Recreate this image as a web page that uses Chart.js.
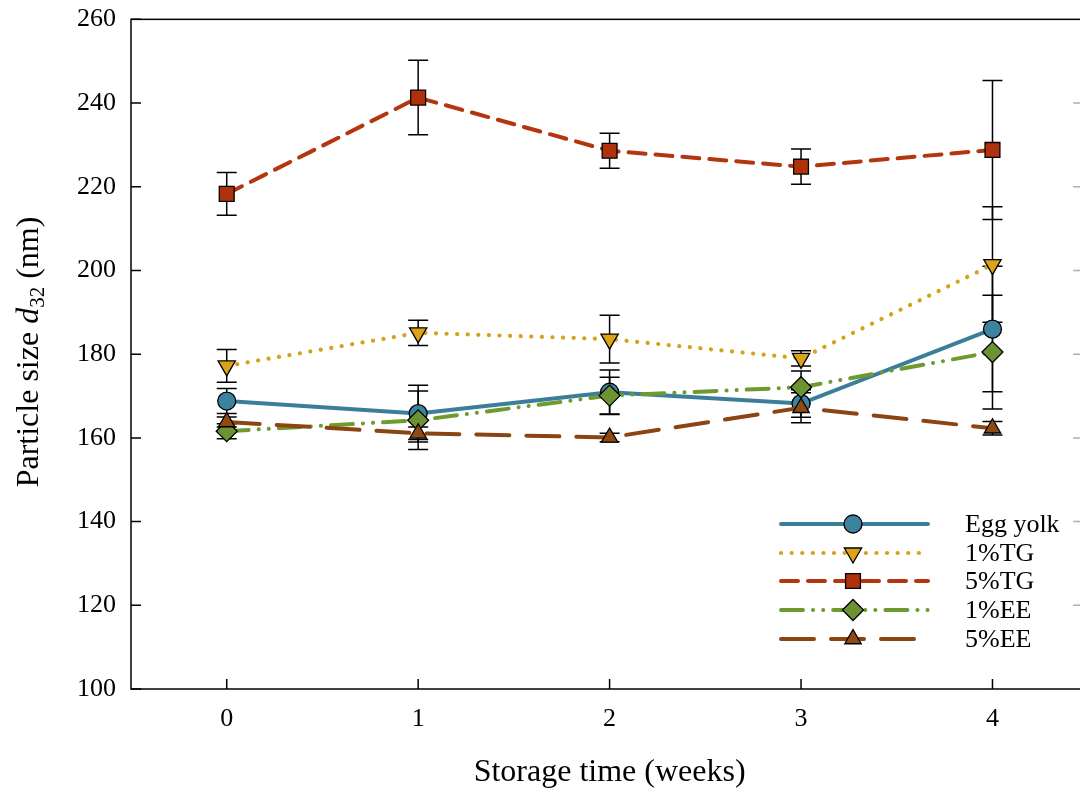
<!DOCTYPE html>
<html lang="en">
<head>
<meta charset="UTF-8">
<title>Particle size d32 vs storage time</title>
<script src="https://cdn.jsdelivr.net/npm/chart.js@4.4.1/dist/chart.umd.min.js"></script>
<style>
    html, body { margin: 0; padding: 0; background: #ffffff; overflow: hidden; }
    #wrap { position: absolute; left: 0; top: 0; width: 1100px; height: 792px; }
</style>
</head>
<body>
<div id="wrap"><canvas id="chart" width="1100" height="792"></canvas></div>
<script>
// data (nm)
const weeks = [0, 1, 2, 3, 4];
const yTicks = [100, 120, 140, 160, 180, 200, 220, 240, 260];
const seriesNames = ['Egg yolk', '1%TG', '5%TG', '1%EE', '5%EE'];

const eggYolk    = [168.8, 165.8, 170.9, 168.2, 186.0];
const eggYolkErr = [3.0, 6.8, 5.3, 3.3, 15.0];
const tg1        = [177.2, 185.1, 183.6, 179.0, 201.4];
const tg1Err     = [3.9, 3.0, 5.7, 1.8, 13.8];
const tg5        = [218.3, 241.3, 228.6, 224.8, 228.8];
const tg5Err     = [5.1, 8.9, 4.2, 4.2, 16.6];
const ee1        = [161.6, 164.2, 170.1, 172.1, 180.5];
const ee1Err     = [1.8, 7.0, 4.4, 3.9, 13.6];
const ee5        = [163.8, 161.1, 160.1, 167.2, 162.3];
const ee5Err     = [1.2, 1.5, 1.0, 3.6, 1.6];

const FONT = '"Liberation Serif", "Times New Roman", serif';

const styles = [
    { line: '#3a7e99', fill: '#3c83a0', dash: [], shape: 'circle', r: 9, rot: 0, width: 4 },
    { line: '#d6a21a', fill: '#dba418', dash: [0.1, 10.5], shape: 'triangle', r: 10, rot: 180, width: 4.2 },
    { line: '#b3360f', fill: '#b0320c', dash: [17, 10], shape: 'rect', r: 10.5, rot: 0, width: 4 },
    { line: '#6f9a2f', fill: '#6d9232', dash: [22, 10, 0.1, 10, 0.1, 10], shape: 'rectRot', r: 10.5, rot: 0, width: 4 },
    { line: '#8b4513', fill: '#8e4a14', dash: [33, 17], shape: 'triangle', r: 9.5, rot: 0, width: 4 }
];

const values = [eggYolk, tg1, tg5, ee1, ee5];
const errors = [eggYolkErr, tg1Err, tg5Err, ee1Err, ee5Err];

function drawMarker(ctx, st, x, y) {
    ctx.save();
    ctx.fillStyle = st.fill;
    ctx.strokeStyle = '#000';
    ctx.lineWidth = 1.3;
    ctx.setLineDash([]);
    ctx.beginPath();
    const r = st.r;
    if (st.shape === 'circle') {
        ctx.arc(x, y, r, 0, Math.PI * 2);
    } else if (st.shape === 'rect') {
        const s = r * Math.SQRT1_2;
        ctx.rect(x - s, y - s, 2 * s, 2 * s);
    } else if (st.shape === 'rectRot') {
        ctx.moveTo(x - r, y); ctx.lineTo(x, y - r); ctx.lineTo(x + r, y); ctx.lineTo(x, y + r);
        ctx.closePath();
    } else {
        let a = st.rot * Math.PI / 180;
        ctx.moveTo(x + Math.sin(a) * r, y - Math.cos(a) * r);
        a += 2 * Math.PI / 3;
        ctx.lineTo(x + Math.sin(a) * r, y - Math.cos(a) * r);
        a += 2 * Math.PI / 3;
        ctx.lineTo(x + Math.sin(a) * r, y - Math.cos(a) * r);
        ctx.closePath();
    }
    ctx.fill();
    ctx.stroke();
    ctx.restore();
}

// error bars under the markers
const errorBars = {
    id: 'errorBars',
    beforeDatasetsDraw(chart) {
        const ctx = chart.ctx, xs = chart.scales.x, ys = chart.scales.y;
        ctx.save();
        ctx.strokeStyle = '#000';
        ctx.lineWidth = 1.5;
        values.forEach((vals, i) => {
            vals.forEach((v, j) => {
                const x = xs.getPixelForValue(weeks[j]);
                const yHi = ys.getPixelForValue(v + errors[i][j]);
                const yLo = ys.getPixelForValue(v - errors[i][j]);
                ctx.beginPath();
                ctx.moveTo(x, yHi); ctx.lineTo(x, yLo);
                ctx.moveTo(x - 10, yHi); ctx.lineTo(x + 10, yHi);
                ctx.moveTo(x - 10, yLo); ctx.lineTo(x + 10, yLo);
                ctx.stroke();
            });
        });
        ctx.restore();
    }
};

// frame, inward ticks, titles, legend
const decorations = {
    id: 'decorations',
    afterDraw(chart) {
        const ctx = chart.ctx, a = chart.chartArea, xs = chart.scales.x, ys = chart.scales.y;
        ctx.save();
        ctx.strokeStyle = '#000';
        ctx.lineWidth = 1.5;
        ctx.strokeRect(a.left, a.top, a.right - a.left, a.bottom - a.top);
        ctx.beginPath();
        yTicks.forEach(t => {
            const y = ys.getPixelForValue(t);
            ctx.moveTo(a.left, y); ctx.lineTo(a.left + 10, y);
        });
        weeks.forEach(w => {
            const x = xs.getPixelForValue(w);
            ctx.moveTo(x, a.bottom); ctx.lineTo(x, a.bottom - 10);
        });
        ctx.stroke();
        ctx.strokeStyle = '#b0b0b0';
        ctx.beginPath();
        yTicks.slice(1, -1).forEach(t => {
            const y = ys.getPixelForValue(t);
            ctx.moveTo(a.right, y); ctx.lineTo(a.right - 15, y);
        });
        ctx.stroke();

        // x title
        ctx.fillStyle = '#000';
        ctx.font = '32px ' + FONT;
        ctx.textAlign = 'center';
        ctx.textBaseline = 'middle';
        ctx.fillText('Storage time (weeks)', (a.left + a.right) / 2, 773);

        // y title with italic d and subscript 32
        const parts = [
            { t: 'Particle size ', f: '32px ' + FONT, dy: 0 },
            { t: 'd', f: 'italic 32px ' + FONT, dy: 0 },
            { t: '32', f: '21px ' + FONT, dy: 8 },
            { t: ' (nm)', f: '32px ' + FONT, dy: 0 }
        ];
        let total = 0;
        parts.forEach(p => { ctx.font = p.f; p.w = ctx.measureText(p.t).width; total += p.w; });
        ctx.translate(30, 352);
        ctx.rotate(-Math.PI / 2);
        ctx.textAlign = 'left';
        let px = -total / 2;
        parts.forEach(p => {
            ctx.font = p.f;
            ctx.fillText(p.t, px, p.dy);
            px += p.w;
        });
        ctx.restore();

        // legend
        const rowY = [524, 553, 581, 610, 639];
        ctx.save();
        seriesNames.forEach((name, i) => {
            const st = styles[i];
            ctx.strokeStyle = st.line;
            ctx.lineWidth = st.width;
            ctx.lineCap = 'round';
            ctx.setLineDash(st.dash);
            ctx.beginPath();
            ctx.moveTo(781, rowY[i]); ctx.lineTo(928, rowY[i]);
            ctx.stroke();
            drawMarker(ctx, st, 853, rowY[i]);
            ctx.fillStyle = '#000';
            ctx.font = '26px ' + FONT;
            ctx.textAlign = 'left';
            ctx.textBaseline = 'middle';
            ctx.fillText(name, 965, rowY[i] + 1);
        });
        ctx.restore();
    }
};

const datasets = seriesNames.map((name, i) => ({
    label: name,
    data: weeks.map((w, j) => ({ x: w, y: values[i][j] })),
    borderColor: styles[i].line,
    borderWidth: styles[i].width,
    borderDash: styles[i].dash,
    borderCapStyle: 'round',
    backgroundColor: styles[i].fill,
    pointStyle: styles[i].shape,
    pointRotation: styles[i].rot,
    pointRadius: styles[i].r,
    pointBackgroundColor: styles[i].fill,
    pointBorderColor: '#000',
    pointBorderWidth: 1.3,
    tension: 0,
    order: 4 - i
}));

new Chart(document.getElementById('chart'), {
    type: 'line',
    data: { datasets },
    plugins: [errorBars, decorations],
    options: {
        responsive: false,
        animation: false,
        layout: { padding: { top: 5, right: 9, left: 0, bottom: 0 } },
        plugins: { legend: { display: false }, tooltip: { enabled: false } },
        scales: {
            x: {
                type: 'linear',
                min: -0.5,
                max: 4.5,
                afterBuildTicks: s => { s.ticks = weeks.map(v => ({ value: v })); },
                afterFit: s => { s.height = 103; },
                grid: { display: false },
                border: { display: false },
                ticks: { color: '#000', padding: 7, font: { family: FONT, size: 26 } }
            },
            y: {
                min: 100,
                max: 260,
                afterBuildTicks: s => { s.ticks = yTicks.map(v => ({ value: v })); },
                afterFit: s => { s.width = 131; },
                grid: { display: false },
                border: { display: false },
                ticks: { color: '#000', padding: 7, font: { family: FONT, size: 26, lineHeight: 0.95 } }
            }
        }
    }
});
</script>
</body>
</html>
